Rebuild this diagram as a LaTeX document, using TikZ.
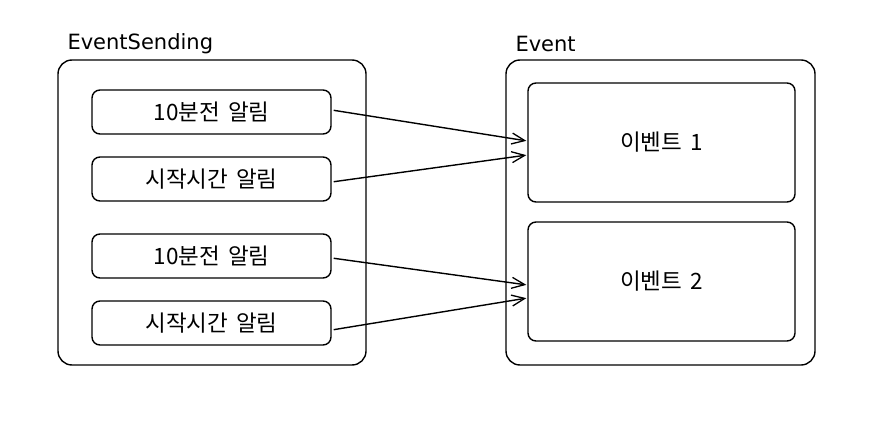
\documentclass[tikz,border=0pt]{standalone}
\usepackage{fontspec}
\setmainfont[WordSpace=1.6]{Noto Sans CJK KR}
\newfontfamily\titlefont{DejaVu Sans}
\usetikzlibrary{arrows.meta}

\tikzset{
  outerbox/.style={draw, line width=1.4pt, rounded corners=14pt},
  itembox/.style={draw, line width=1.4pt, rounded corners=8pt, font=\fontsize{22.5}{27}\selectfont},
  title/.style={anchor=west, font=\titlefont\fontsize{21}{24}\selectfont},
  sendarrow/.style={line width=1.4pt, -{Straight Barb[length=13pt,width=11pt,line width=1.3pt]}, shorten <=2pt, shorten >=1pt}
}

\begin{document}
\begin{tikzpicture}[x=1pt,y=-1pt]
  \useasboundingbox (0,0) rectangle (890,438);

  % left container
  \node[title] (sendtitle) at (64,44) {EventSending};
  \node[outerbox, minimum width=308pt, minimum height=305pt] (sending) at (212,212.5) {};

  \node[itembox, minimum width=239pt, minimum height=44pt] (tenA) at (211.5,112) {10분전 알림};
  \node[itembox, minimum width=239pt, minimum height=44pt] (startA) at (211.5,179) {시작시간 알림};
  \node[itembox, minimum width=239pt, minimum height=44pt] (tenB) at (211.5,256) {10분전 알림};
  \node[itembox, minimum width=239pt, minimum height=44pt] (startB) at (211.5,323) {시작시간 알림};

  % right container
  \node[title] (eventtitle) at (512,44) {Event};
  \node[outerbox, minimum width=309pt, minimum height=305pt] (event) at (660.5,212.5) {};

  \node[itembox, minimum width=267pt, minimum height=119pt] (evOne) at (661.5,142.5) {이벤트 1};
  \node[itembox, minimum width=267pt, minimum height=119pt] (evTwo) at (661.5,281.5) {이벤트 2};

  % arrows
  \draw[sendarrow] ([yshift=2pt]tenA.east) -- ([yshift=1.5pt]evOne.west);
  \draw[sendarrow] ([yshift=-3pt]startA.east) -- ([yshift=-12.5pt]evOne.west);
  \draw[sendarrow] ([yshift=-2pt]tenB.east) -- ([yshift=-3.5pt]evTwo.west);
  \draw[sendarrow] ([yshift=-7pt]startB.east) -- ([yshift=-16.5pt]evTwo.west);

\end{tikzpicture}
\end{document}
